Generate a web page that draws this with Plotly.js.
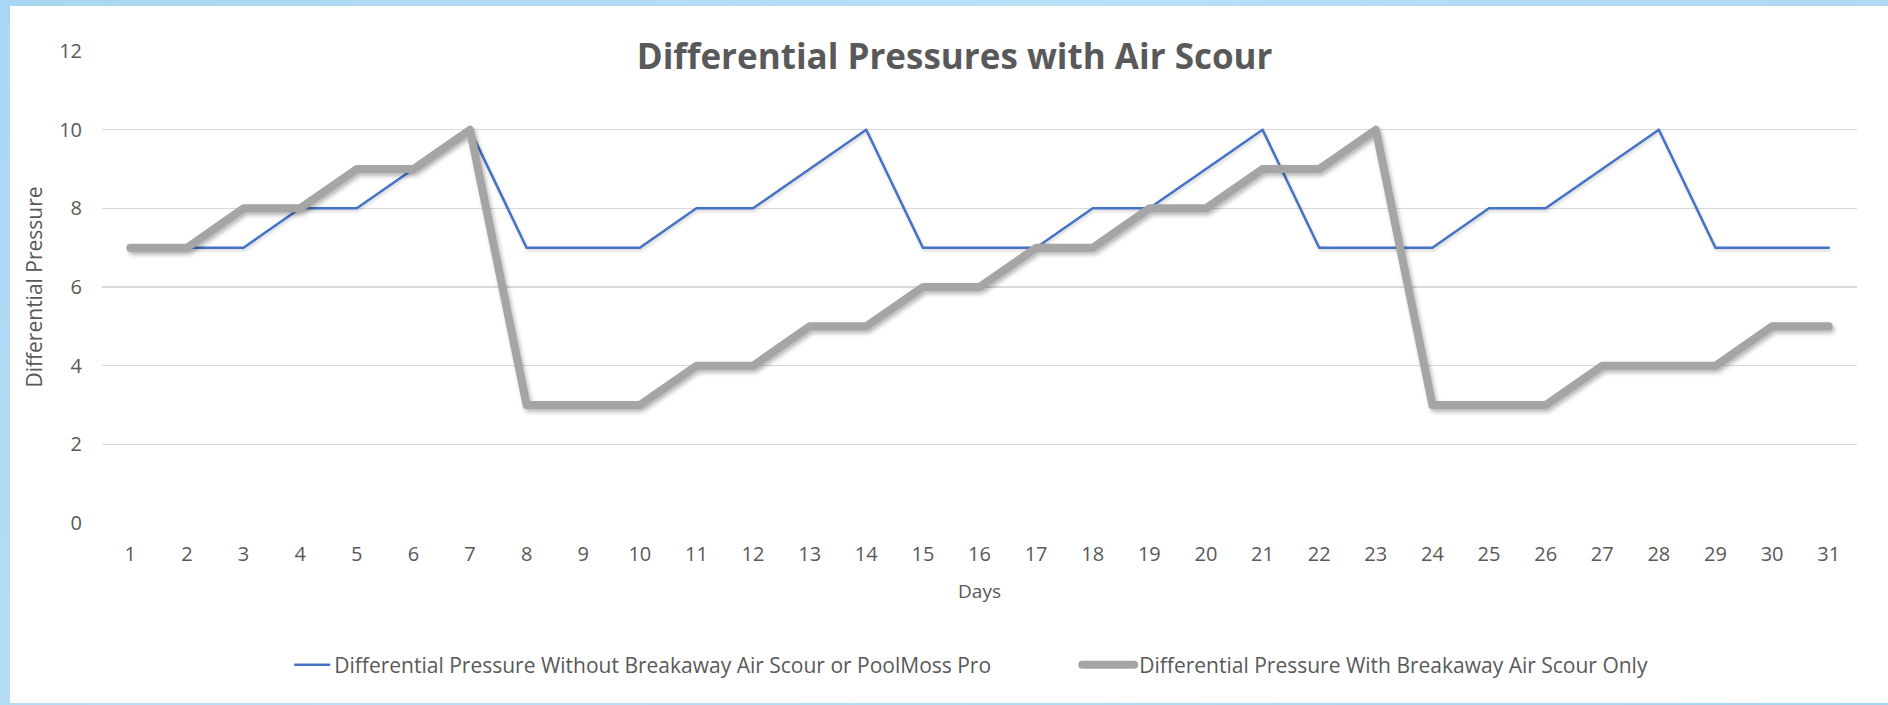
<!DOCTYPE html>
<html>
<head>
<meta charset="utf-8">
<script src="https://cdn.plot.ly/plotly-3.0.1.min.js"></script>
<style>
  html, body { margin: 0; padding: 0; width: 1888px; height: 705px; overflow: hidden;
    background: linear-gradient(135deg, #a9d6f2 0%, #b9e0f7 40%, #a6d3f0 100%); }
  #chart { position: absolute; left: 10px; top: 6px; width: 1878px; height: 697px; background: #fff; }
  .scatterlayer path.js-line, .legendlines path { stroke-linejoin: round; stroke-linecap: round; }
  .scatterlayer .trace:nth-child(1) path.js-line { filter: drop-shadow(1px 2px 1.5px rgba(0,0,0,0.18)); }
  .scatterlayer .trace:nth-child(2) path.js-line { filter: drop-shadow(2px 3px 2px rgba(0,0,0,0.28)); }
</style>
</head>
<body>
<div id="chart"></div>
<script>
const days = [1,2,3,4,5,6,7,8,9,10,11,12,13,14,15,16,17,18,19,20,21,22,23,24,25,26,27,28,29,30,31];
const withoutAirScour = [7,7,7,8,8,9,10,7,7,7,8,8,9,10,7,7,7,8,8,9,10,7,7,7,8,8,9,10,7,7,7];
const withAirScourOnly = [7,7,8,8,9,9,10,3,3,3,4,4,5,5,6,6,7,7,8,8,9,9,10,3,3,3,4,4,4,5,5];
const seriesNames = [
  "Differential Pressure Without Breakaway Air Scour or PoolMoss Pro",
  "Differential Pressure With Breakaway Air Scour Only"
];
const yTicks = [0,2,4,6,8,10,12];

const font = "Open Sans, Noto Sans, sans-serif";
const grey = "#595959";

const traces = [
  { x: days, y: withoutAirScour, name: seriesNames[0], type: "scatter", mode: "lines",
    line: { color: "#4472C4", width: 2.5 } },
  { x: days, y: withAirScourOnly, name: seriesNames[1], type: "scatter", mode: "lines",
    line: { color: "#A5A5A5", width: 8 } }
];

const layout = {
  width: 1878, height: 697,
  paper_bgcolor: "#ffffff", plot_bgcolor: "#ffffff",
  margin: { l: 92, r: 31, t: 45, b: 180, autoexpand: false },
  font: { family: font, color: grey },
  title: { text: "<b>Differential Pressures with Air Scour</b>", x: 0.503, xref: "container",
    y: 0.927, yref: "container", yanchor: "middle", xanchor: "center",
    font: { family: font, size: 35, color: grey } },
  xaxis: {
    type: "linear", range: [0.5, 31.5], tickvals: days, ticktext: days.map(String),
    showgrid: false, zeroline: false, showline: false, ticks: "",
    tickfont: { size: 20, color: grey }, ticklabelstandoff: 17,
    title: { text: "Days", font: { size: 19, color: grey }, standoff: 18 }
  },
  yaxis: {
    range: [0, 12], tickvals: yTicks, showgrid: true, gridcolor: "#D9D9D9", gridwidth: 1.5,
    zeroline: false, showline: false, ticks: "", ticklabelstandoff: 19,
    tickfont: { size: 20, color: grey },
    title: { text: "Differential Pressure", font: { size: 21, color: grey }, standoff: 10 }
  },
  showlegend: true,
  legend: { orientation: "h", x: 0.58, xref: "container", xanchor: "center",
    y: 0.0545, yref: "container", yanchor: "middle",
    font: { size: 21, color: grey }, entrywidth: 760, traceorder: "normal" }
};

Plotly.newPlot("chart", traces, layout, { displayModeBar: false, staticPlot: true }).then(function (gd) {
  // lengthen the legend line samples (Excel-style longer swatches)
  gd.querySelectorAll(".legendlines path").forEach(function (p) {
    p.setAttribute("d", "M-17,0h52");
  });
});
</script>
</body>
</html>
